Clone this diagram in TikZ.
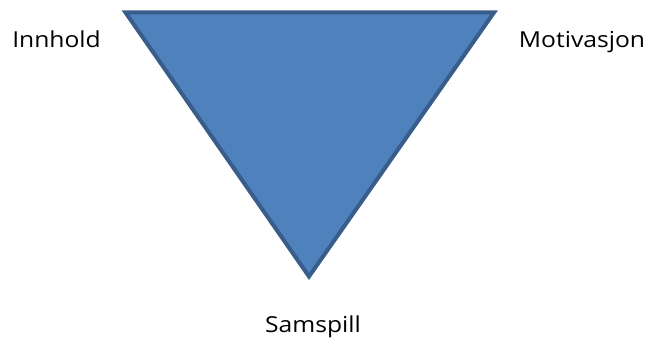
\documentclass[tikz,border=0pt]{standalone}
\usepackage{fontspec}
\setmainfont[FakeStretch=1.12]{Open Sans}
\definecolor{trifill}{HTML}{4F81BD}
\definecolor{triline}{HTML}{385D8A}
\tikzset{lbl/.style={font=\fontsize{22}{26}\selectfont, inner sep=0pt, anchor=base}}
\begin{document}
\begin{tikzpicture}[x=1pt,y=-1pt]
\useasboundingbox (0,0) rectangle (650,345);
\coordinate (tl) at (125.5,12.5);
\coordinate (tr) at (494,12.5);
\coordinate (bt) at (309,276.5);
\draw[fill=trifill, draw=triline, line width=4pt, line join=miter] (tl) -- (tr) -- (bt) -- cycle;
\node[lbl] (inn) at (56.5,48) {Innhold};
\node[lbl] (mot) at (582,48) {Motivasjon};
\node[lbl] (sam) at (313,332) {Samspill};
\end{tikzpicture}
\end{document}
